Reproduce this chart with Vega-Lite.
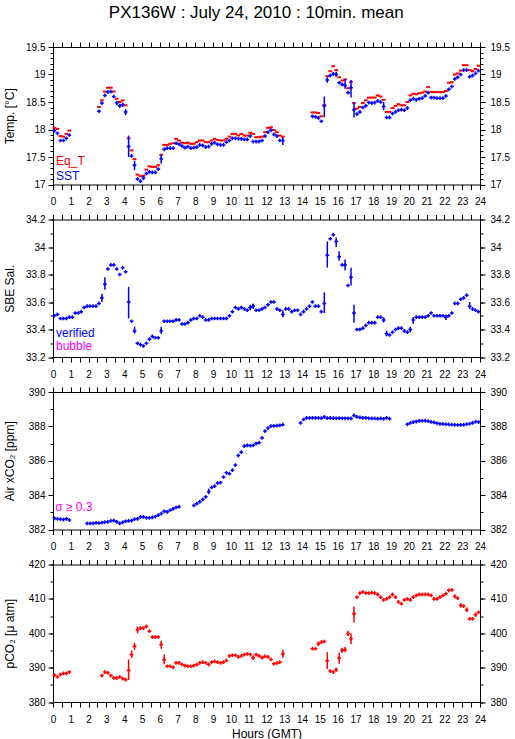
{
"$schema": "https://vega.github.io/schema/vega-lite/v6.json",
"title": {"text": "PX136W : July 24, 2010 : 10min. mean", "fontSize": 17, "font": "Liberation Sans", "fontWeight": "normal", "offset": 19, "anchor": "middle", "color": "#000000"},
"padding": {"left": 2, "top": 4, "right": 0, "bottom": 0},
"bounds": "flush",
"spacing": 34.5,
"datasets": {
"sst": [
{"t":0.083,"v":17.98},{"t":0.25,"v":17.93},{"t":0.417,"v":17.80},{"t":0.583,"v":17.80},{"t":0.75,"v":17.84},{"t":0.917,"v":17.90},
{"t":2.583,"v":18.33},{"t":2.75,"v":18.48},{"t":2.917,"v":18.62},{"t":3.083,"v":18.68},{"t":3.25,"v":18.69},{"t":3.417,"v":18.60},{"t":3.583,"v":18.48,"lo":18.44,"hi":18.52},{"t":3.75,"v":18.43,"lo":18.40,"hi":18.47},{"t":3.917,"v":18.45,"lo":18.41,"hi":18.49},{"t":4.083,"v":18.32,"lo":18.26,"hi":18.37},
{"t":4.25,"v":17.69,"lo":17.50,"hi":17.89},{"t":4.417,"v":17.52},{"t":4.583,"v":17.35,"lo":17.26,"hi":17.43},{"t":4.75,"v":17.10},{"t":4.917,"v":17.06},{"t":5.083,"v":17.12,"lo":17.08,"hi":17.16},{"t":5.25,"v":17.20},{"t":5.417,"v":17.23},{"t":5.583,"v":17.22},{"t":5.75,"v":17.22},{"t":5.917,"v":17.28},
{"t":6.083,"v":17.47,"lo":17.38,"hi":17.55},{"t":6.25,"v":17.64},{"t":6.417,"v":17.66},{"t":6.583,"v":17.66},{"t":6.75,"v":17.66},{"t":6.917,"v":17.75},
{"t":7.083,"v":17.73},{"t":7.25,"v":17.70},{"t":7.417,"v":17.67},{"t":7.583,"v":17.69},{"t":7.75,"v":17.66},{"t":7.917,"v":17.67},
{"t":8.083,"v":17.68},{"t":8.25,"v":17.72},{"t":8.417,"v":17.71},{"t":8.583,"v":17.68},{"t":8.75,"v":17.69},{"t":8.917,"v":17.74},
{"t":9.083,"v":17.76},{"t":9.25,"v":17.73},{"t":9.417,"v":17.72},{"t":9.583,"v":17.72},{"t":9.75,"v":17.77},{"t":9.917,"v":17.80},
{"t":10.083,"v":17.84},{"t":10.25,"v":17.84},{"t":10.417,"v":17.83},{"t":10.583,"v":17.83},{"t":10.75,"v":17.82},{"t":10.917,"v":17.82},
{"t":11.083,"v":17.88},{"t":11.25,"v":17.78},{"t":11.417,"v":17.78},{"t":11.583,"v":17.78},{"t":11.75,"v":17.80},{"t":11.917,"v":17.88},
{"t":12.083,"v":17.95},{"t":12.25,"v":17.99},{"t":12.417,"v":17.91},{"t":12.583,"v":17.88},{"t":12.75,"v":17.80},{"t":12.917,"v":17.80,"lo":17.72,"hi":17.86},
{"t":14.583,"v":18.24},{"t":14.75,"v":18.23},{"t":14.917,"v":18.21},{"t":15.083,"v":18.15},{"t":15.25,"v":18.43,"lo":18.22,"hi":18.60},{"t":15.417,"v":18.90,"lo":18.85,"hi":18.95},{"t":15.583,"v":18.98},{"t":15.75,"v":19.01},{"t":15.917,"v":19.0,"lo":18.96,"hi":19.05},
{"t":16.083,"v":18.85},{"t":16.25,"v":18.82},{"t":16.417,"v":18.80,"lo":18.74,"hi":18.92},{"t":16.583,"v":18.67},{"t":16.75,"v":18.76,"lo":18.58,"hi":18.90},{"t":16.917,"v":18.36,"lo":18.22,"hi":18.50},
{"t":17.083,"v":18.28},{"t":17.25,"v":18.32},{"t":17.417,"v":18.40},{"t":17.583,"v":18.43},{"t":17.75,"v":18.49},{"t":17.917,"v":18.48},
{"t":18.083,"v":18.49},{"t":18.25,"v":18.52},{"t":18.417,"v":18.50},{"t":18.583,"v":18.42,"lo":18.35,"hi":18.50},{"t":18.75,"v":18.22},{"t":18.917,"v":18.22},
{"t":19.083,"v":18.29},{"t":19.25,"v":18.32},{"t":19.417,"v":18.35},{"t":19.583,"v":18.36},{"t":19.75,"v":18.35},{"t":19.917,"v":18.39},
{"t":20.083,"v":18.53},{"t":20.25,"v":18.56},{"t":20.417,"v":18.54},{"t":20.583,"v":18.56},{"t":20.75,"v":18.57},{"t":20.917,"v":18.61},
{"t":21.083,"v":18.67},{"t":21.25,"v":18.58},{"t":21.417,"v":18.58},{"t":21.583,"v":18.57},{"t":21.75,"v":18.57},{"t":21.917,"v":18.57},
{"t":22.083,"v":18.61},{"t":22.25,"v":18.73},{"t":22.417,"v":18.78},{"t":22.583,"v":18.92},{"t":22.75,"v":18.95},{"t":22.917,"v":19.00},
{"t":23.083,"v":19.08},{"t":23.25,"v":19.08},{"t":23.417,"v":18.96},{"t":23.583,"v":18.98},{"t":23.75,"v":19.02},{"t":23.917,"v":19.07}
],
"eq": [
{"t":0.083,"v":18.03},{"t":0.25,"v":18.01},{"t":0.417,"v":17.88},{"t":0.583,"v":17.87},{"t":0.75,"v":17.92},{"t":0.917,"v":17.98},
{"t":2.583,"v":18.41},{"t":2.75,"v":18.53},{"t":2.917,"v":18.69},{"t":3.083,"v":18.76},{"t":3.25,"v":18.76},{"t":3.417,"v":18.69},{"t":3.583,"v":18.56},{"t":3.75,"v":18.50},{"t":3.917,"v":18.53},{"t":4.083,"v":18.44},
{"t":4.25,"v":17.84},{"t":4.417,"v":17.62},{"t":4.583,"v":17.46},{"t":4.75,"v":17.18},{"t":4.917,"v":17.15},{"t":5.083,"v":17.16},{"t":5.25,"v":17.27},{"t":5.417,"v":17.33},{"t":5.583,"v":17.32},{"t":5.75,"v":17.32},{"t":5.917,"v":17.35},
{"t":6.083,"v":17.54},{"t":6.25,"v":17.72},{"t":6.417,"v":17.72},{"t":6.583,"v":17.74},{"t":6.75,"v":17.75},{"t":6.917,"v":17.83},
{"t":7.083,"v":17.80},{"t":7.25,"v":17.76},{"t":7.417,"v":17.75},{"t":7.583,"v":17.76},{"t":7.75,"v":17.74},{"t":7.917,"v":17.74},
{"t":8.083,"v":17.77},{"t":8.25,"v":17.80},{"t":8.417,"v":17.80},{"t":8.583,"v":17.77},{"t":8.75,"v":17.77},{"t":8.917,"v":17.80},
{"t":9.083,"v":17.83},{"t":9.25,"v":17.81},{"t":9.417,"v":17.80},{"t":9.583,"v":17.80},{"t":9.75,"v":17.83},{"t":9.917,"v":17.87},
{"t":10.083,"v":17.92},{"t":10.25,"v":17.92},{"t":10.417,"v":17.89},{"t":10.583,"v":17.92},{"t":10.75,"v":17.89},{"t":10.917,"v":17.89},
{"t":11.083,"v":17.94},{"t":11.25,"v":17.92},{"t":11.417,"v":17.86},{"t":11.583,"v":17.86},{"t":11.75,"v":17.87},{"t":11.917,"v":17.95},
{"t":12.083,"v":18.03},{"t":12.25,"v":18.04},{"t":12.417,"v":17.99},{"t":12.583,"v":17.95},{"t":12.75,"v":17.89},{"t":12.917,"v":17.87},
{"t":14.583,"v":18.31},{"t":14.75,"v":18.31},{"t":14.917,"v":18.30},{"t":15.083,"v":18.24},{"t":15.25,"v":18.44},{"t":15.417,"v":18.97},{"t":15.583,"v":19.06},{"t":15.75,"v":19.15},{"t":15.917,"v":19.08},
{"t":16.083,"v":18.95},{"t":16.25,"v":18.89},{"t":16.417,"v":18.91},{"t":16.583,"v":18.75},{"t":16.75,"v":18.86},{"t":16.917,"v":18.48},
{"t":17.083,"v":18.38},{"t":17.25,"v":18.41},{"t":17.417,"v":18.48},{"t":17.583,"v":18.53},{"t":17.75,"v":18.58},{"t":17.917,"v":18.58},
{"t":18.083,"v":18.58},{"t":18.25,"v":18.62},{"t":18.417,"v":18.60},{"t":18.583,"v":18.54},{"t":18.75,"v":18.32},{"t":18.917,"v":18.32},
{"t":19.083,"v":18.39},{"t":19.25,"v":18.43},{"t":19.417,"v":18.46},{"t":19.583,"v":18.44},{"t":19.75,"v":18.44},{"t":19.917,"v":18.50},
{"t":20.083,"v":18.62},{"t":20.25,"v":18.65},{"t":20.417,"v":18.64},{"t":20.583,"v":18.66},{"t":20.75,"v":18.67},{"t":20.917,"v":18.69},
{"t":21.083,"v":18.77},{"t":21.25,"v":18.68},{"t":21.417,"v":18.68},{"t":21.583,"v":18.68},{"t":21.75,"v":18.68},{"t":21.917,"v":18.68},
{"t":22.083,"v":18.70},{"t":22.25,"v":18.85},{"t":22.417,"v":18.86},{"t":22.583,"v":19.00},{"t":22.75,"v":19.02},{"t":22.917,"v":19.07},
{"t":23.083,"v":19.17},{"t":23.25,"v":19.17},{"t":23.417,"v":19.08},{"t":23.583,"v":19.06},{"t":23.75,"v":19.10},{"t":23.917,"v":19.16}
],
"sal": [
{"t":0.083,"v":33.50},{"t":0.25,"v":33.51},{"t":0.417,"v":33.48},{"t":0.583,"v":33.48},{"t":0.75,"v":33.48},{"t":0.917,"v":33.49},
{"t":1.083,"v":33.49},{"t":1.25,"v":33.52},{"t":1.417,"v":33.52},{"t":1.583,"v":33.53},{"t":1.75,"v":33.56},{"t":1.917,"v":33.57},
{"t":2.083,"v":33.57},{"t":2.25,"v":33.57},{"t":2.417,"v":33.57},{"t":2.583,"v":33.59},{"t":2.75,"v":33.63,"lo":33.60,"hi":33.66},{"t":2.917,"v":33.73,"lo":33.69,"hi":33.78},
{"t":3.083,"v":33.84},{"t":3.25,"v":33.87},{"t":3.417,"v":33.87},{"t":3.583,"v":33.84},{"t":3.75,"v":33.80},{"t":3.917,"v":33.85},
{"t":4.083,"v":33.82},{"t":4.25,"v":33.60,"lo":33.48,"hi":33.71},{"t":4.417,"v":33.46},{"t":4.583,"v":33.39,"lo":33.37,"hi":33.42},{"t":4.75,"v":33.30},{"t":4.917,"v":33.29},
{"t":5.083,"v":33.28},{"t":5.25,"v":33.30},{"t":5.417,"v":33.33},{"t":5.583,"v":33.35},{"t":5.75,"v":33.34},{"t":5.917,"v":33.34},
{"t":6.083,"v":33.39,"lo":33.37,"hi":33.42},{"t":6.25,"v":33.46},{"t":6.417,"v":33.46},{"t":6.583,"v":33.46},{"t":6.75,"v":33.46},{"t":6.917,"v":33.47},
{"t":7.083,"v":33.47},{"t":7.25,"v":33.44},{"t":7.417,"v":33.44},{"t":7.583,"v":33.45},{"t":7.75,"v":33.47},{"t":7.917,"v":33.48},
{"t":8.083,"v":33.48},{"t":8.25,"v":33.50},{"t":8.417,"v":33.49},{"t":8.583,"v":33.47},{"t":8.75,"v":33.47},{"t":8.917,"v":33.48},
{"t":9.083,"v":33.48},{"t":9.25,"v":33.48},{"t":9.417,"v":33.48},{"t":9.583,"v":33.48},{"t":9.75,"v":33.48},{"t":9.917,"v":33.50},
{"t":10.083,"v":33.53},{"t":10.25,"v":33.56},{"t":10.417,"v":33.55},{"t":10.583,"v":33.56},{"t":10.75,"v":33.55},{"t":10.917,"v":33.54},
{"t":11.083,"v":33.56,"lo":33.54,"hi":33.58},{"t":11.25,"v":33.57,"lo":33.55,"hi":33.59},{"t":11.417,"v":33.54},{"t":11.583,"v":33.54},{"t":11.75,"v":33.55},{"t":11.917,"v":33.56},
{"t":12.083,"v":33.58},{"t":12.25,"v":33.60},{"t":12.417,"v":33.60},{"t":12.583,"v":33.55},{"t":12.75,"v":33.54},{"t":12.917,"v":33.51,"lo":33.49,"hi":33.54},
{"t":13.083,"v":33.55},{"t":13.25,"v":33.55},{"t":13.417,"v":33.53},{"t":13.583,"v":33.54},{"t":13.75,"v":33.54},{"t":13.917,"v":33.51},
{"t":14.083,"v":33.53},{"t":14.25,"v":33.55},{"t":14.417,"v":33.57},{"t":14.583,"v":33.60},{"t":14.75,"v":33.57},{"t":14.917,"v":33.57},
{"t":15.083,"v":33.53},{"t":15.25,"v":33.59,"lo":33.52,"hi":33.67},{"t":15.417,"v":33.94,"lo":33.85,"hi":34.04},{"t":15.583,"v":34.06},{"t":15.75,"v":34.09},{"t":15.917,"v":34.04,"lo":34.00,"hi":34.07},
{"t":16.083,"v":33.93,"lo":33.90,"hi":33.97},{"t":16.25,"v":33.87},{"t":16.417,"v":33.87,"lo":33.83,"hi":33.91},{"t":16.583,"v":33.72},{"t":16.75,"v":33.78,"lo":33.72,"hi":33.85},{"t":16.917,"v":33.52,"lo":33.45,"hi":33.58},
{"t":17.083,"v":33.40},{"t":17.25,"v":33.40},{"t":17.417,"v":33.41},{"t":17.583,"v":33.43},{"t":17.75,"v":33.45},{"t":17.917,"v":33.45},
{"t":18.083,"v":33.45},{"t":18.25,"v":33.49},{"t":18.417,"v":33.49},{"t":18.583,"v":33.47,"lo":33.45,"hi":33.49},{"t":18.75,"v":33.37,"lo":33.35,"hi":33.39},{"t":18.917,"v":33.36},
{"t":19.083,"v":33.38},{"t":19.25,"v":33.40},{"t":19.417,"v":33.41},{"t":19.583,"v":33.41},{"t":19.75,"v":33.39},{"t":19.917,"v":33.38},
{"t":20.083,"v":33.40,"lo":33.38,"hi":33.42},{"t":20.25,"v":33.47,"lo":33.44,"hi":33.49},{"t":20.417,"v":33.49},{"t":20.583,"v":33.49},{"t":20.75,"v":33.49},{"t":20.917,"v":33.49},
{"t":21.083,"v":33.50},{"t":21.25,"v":33.52},{"t":21.417,"v":33.50},{"t":21.583,"v":33.50},{"t":21.75,"v":33.50},{"t":21.917,"v":33.50},
{"t":22.083,"v":33.49,"lo":33.47,"hi":33.51},{"t":22.25,"v":33.50},{"t":22.417,"v":33.52},{"t":22.583,"v":33.59},{"t":22.75,"v":33.59},{"t":22.917,"v":33.62},
{"t":23.083,"v":33.63},{"t":23.25,"v":33.65},{"t":23.417,"v":33.57,"lo":33.55,"hi":33.60},{"t":23.583,"v":33.55},{"t":23.75,"v":33.54},{"t":23.917,"v":33.53}
],
"xco2": [
{"t":0.083,"v":382.65},{"t":0.25,"v":382.62},{"t":0.417,"v":382.60},{"t":0.583,"v":382.58},{"t":0.75,"v":382.62},{"t":0.917,"v":382.55},
{"t":1.917,"v":382.35},{"t":2.083,"v":382.35},{"t":2.25,"v":382.36},{"t":2.417,"v":382.38},{"t":2.583,"v":382.37},{"t":2.75,"v":382.40},{"t":2.917,"v":382.43},
{"t":3.083,"v":382.45},{"t":3.25,"v":382.50},{"t":3.417,"v":382.52},{"t":3.583,"v":382.45},{"t":3.75,"v":382.35},{"t":3.917,"v":382.42},
{"t":4.083,"v":382.48},{"t":4.25,"v":382.50},{"t":4.417,"v":382.52},{"t":4.583,"v":382.60},{"t":4.75,"v":382.62},{"t":4.917,"v":382.73},
{"t":5.083,"v":382.73},{"t":5.25,"v":382.68},{"t":5.417,"v":382.68},{"t":5.583,"v":382.70},{"t":5.75,"v":382.75},{"t":5.917,"v":382.83},
{"t":6.083,"v":382.93},{"t":6.25,"v":383.06},{"t":6.417,"v":383.02},{"t":6.583,"v":383.12},{"t":6.75,"v":383.20},{"t":6.917,"v":383.28},
{"t":7.083,"v":383.33},
{"t":7.917,"v":383.40},{"t":8.083,"v":383.50},{"t":8.25,"v":383.62},{"t":8.417,"v":383.75},{"t":8.583,"v":383.90},{"t":8.75,"v":384.20,"lo":384.05,"hi":384.38},
{"t":8.917,"v":384.45},{"t":9.083,"v":384.52},{"t":9.25,"v":384.70},{"t":9.417,"v":384.73},{"t":9.583,"v":385.05},{"t":9.75,"v":385.30},
{"t":9.917,"v":385.25},{"t":10.083,"v":385.45},{"t":10.25,"v":385.75},{"t":10.417,"v":386.30},{"t":10.583,"v":386.50},{"t":10.75,"v":386.85},
{"t":10.917,"v":386.90},{"t":11.083,"v":386.88},{"t":11.25,"v":386.90},{"t":11.417,"v":387.00},{"t":11.583,"v":387.05},{"t":11.75,"v":387.33},
{"t":11.917,"v":387.73},{"t":12.083,"v":387.90},{"t":12.25,"v":388.02},{"t":12.417,"v":388.03},{"t":12.583,"v":388.04},{"t":12.75,"v":388.06},{"t":12.917,"v":388.10},
{"t":13.917,"v":388.20},{"t":14.083,"v":388.40},{"t":14.25,"v":388.49},{"t":14.417,"v":388.49},{"t":14.583,"v":388.49},{"t":14.75,"v":388.50},{"t":14.917,"v":388.49},
{"t":15.083,"v":388.48},{"t":15.25,"v":388.55},{"t":15.417,"v":388.48},{"t":15.583,"v":388.49},{"t":15.75,"v":388.48},{"t":15.917,"v":388.47},
{"t":16.083,"v":388.48},{"t":16.25,"v":388.47},{"t":16.417,"v":388.47},{"t":16.583,"v":388.47},{"t":16.75,"v":388.46},{"t":16.917,"v":388.64},
{"t":17.083,"v":388.55},{"t":17.25,"v":388.52},{"t":17.417,"v":388.50},{"t":17.583,"v":388.50},{"t":17.75,"v":388.47},{"t":17.917,"v":388.46},
{"t":18.083,"v":388.46},{"t":18.25,"v":388.45},{"t":18.417,"v":388.46},{"t":18.583,"v":388.44},{"t":18.75,"v":388.50},{"t":18.917,"v":388.45},
{"t":19.917,"v":388.12},{"t":20.083,"v":388.20},{"t":20.25,"v":388.25},{"t":20.417,"v":388.28},{"t":20.583,"v":388.32},{"t":20.75,"v":388.33},{"t":20.917,"v":388.33},
{"t":21.083,"v":388.30},{"t":21.25,"v":388.26},{"t":21.417,"v":388.23},{"t":21.583,"v":388.18},{"t":21.75,"v":388.15},{"t":21.917,"v":388.14},
{"t":22.083,"v":388.12},{"t":22.25,"v":388.11},{"t":22.417,"v":388.10},{"t":22.583,"v":388.09},{"t":22.75,"v":388.08},{"t":22.917,"v":388.09},
{"t":23.083,"v":388.10},{"t":23.25,"v":388.13},{"t":23.417,"v":388.16},{"t":23.583,"v":388.20},{"t":23.75,"v":388.28},{"t":23.917,"v":388.25}
],
"pco2": [
{"t":0.083,"v":387.8},{"t":0.25,"v":387.3},{"t":0.417,"v":388.0},{"t":0.583,"v":388.3},{"t":0.75,"v":388.3},{"t":0.917,"v":388.7},
{"t":2.75,"v":387.7},{"t":2.917,"v":388.7},{"t":3.083,"v":388.5},{"t":3.25,"v":387.7},{"t":3.417,"v":387.0},{"t":3.583,"v":387.0},{"t":3.75,"v":387.3},{"t":3.917,"v":386.8},
{"t":4.083,"v":386.5},{"t":4.25,"v":389.2,"lo":386.4,"hi":392.4},{"t":4.417,"v":393.8,"lo":392.8,"hi":395.0},{"t":4.583,"v":396.2,"lo":395.2,"hi":397.2},{"t":4.75,"v":401.0,"lo":400.0,"hi":402.0},{"t":4.917,"v":401.5},
{"t":5.083,"v":401.5},{"t":5.25,"v":402.0},{"t":5.417,"v":400.6},{"t":5.583,"v":398.9},{"t":5.75,"v":398.9},{"t":5.917,"v":398.9},
{"t":6.083,"v":396.7,"lo":395.5,"hi":397.8},{"t":6.25,"v":392.3,"lo":391.0,"hi":393.8},{"t":6.417,"v":390.4},{"t":6.583,"v":390.4},{"t":6.75,"v":390.1},{"t":6.917,"v":391.4},
{"t":7.083,"v":391.4},{"t":7.25,"v":390.9},{"t":7.417,"v":390.6},{"t":7.583,"v":390.4},{"t":7.75,"v":390.4},{"t":7.917,"v":390.6},
{"t":8.083,"v":390.9},{"t":8.25,"v":391.4},{"t":8.417,"v":391.6},{"t":8.583,"v":391.4},{"t":8.75,"v":390.9},{"t":8.917,"v":391.6},
{"t":9.083,"v":391.8},{"t":9.25,"v":391.6},{"t":9.417,"v":391.4},{"t":9.583,"v":391.6},{"t":9.75,"v":392.1},{"t":9.917,"v":393.4},
{"t":10.083,"v":393.6},{"t":10.25,"v":393.6},{"t":10.417,"v":393.1},{"t":10.583,"v":393.4},{"t":10.75,"v":393.8},{"t":10.917,"v":394.0},
{"t":11.083,"v":393.8},{"t":11.25,"v":392.9,"lo":392.3,"hi":393.6},{"t":11.417,"v":393.8},{"t":11.583,"v":393.4},{"t":11.75,"v":392.9},{"t":11.917,"v":393.3},
{"t":12.083,"v":393.1},{"t":12.25,"v":392.4},{"t":12.417,"v":391.1},{"t":12.583,"v":391.3},{"t":12.75,"v":391.6},{"t":12.917,"v":394.0,"lo":392.9,"hi":395.2},
{"t":14.583,"v":395.5},{"t":14.75,"v":395.5},{"t":14.917,"v":396.9,"lo":396.3,"hi":397.6},{"t":15.083,"v":397.4},{"t":15.25,"v":397.6},{"t":15.417,"v":392.0,"lo":389.6,"hi":394.5},
{"t":15.583,"v":389.0},{"t":15.75,"v":388.7},{"t":15.917,"v":389.4,"lo":388.8,"hi":390.0},{"t":16.083,"v":392.8,"lo":391.1,"hi":394.3},{"t":16.25,"v":395.0,"lo":394.3,"hi":395.8},{"t":16.417,"v":395.2,"lo":394.5,"hi":396.0},
{"t":16.583,"v":399.9,"lo":399.2,"hi":400.7},{"t":16.75,"v":398.4,"lo":396.8,"hi":400.0},{"t":16.917,"v":405.7,"lo":403.1,"hi":407.8},{"t":17.083,"v":410.5},{"t":17.25,"v":411.7},{"t":17.417,"v":412.0},
{"t":17.583,"v":411.7},{"t":17.75,"v":411.7},{"t":17.917,"v":411.8},{"t":18.083,"v":411.7},{"t":18.25,"v":411.3},{"t":18.417,"v":410.5},
{"t":18.583,"v":409.7},{"t":18.75,"v":410.0},{"t":18.917,"v":410.5},{"t":19.083,"v":411.3,"lo":410.9,"hi":411.7},{"t":19.25,"v":410.5},{"t":19.417,"v":409.1},
{"t":19.583,"v":408.6},{"t":19.75,"v":409.7},{"t":19.917,"v":410.0},{"t":20.083,"v":409.7},{"t":20.25,"v":410.5},{"t":20.417,"v":411.0},
{"t":20.583,"v":411.3},{"t":20.75,"v":411.3},{"t":20.917,"v":411.3},{"t":21.083,"v":411.3},{"t":21.25,"v":411.0},{"t":21.417,"v":410.0},
{"t":21.583,"v":410.0},{"t":21.75,"v":410.5},{"t":21.917,"v":411.0},{"t":22.083,"v":411.5},{"t":22.25,"v":412.5},{"t":22.417,"v":412.6},
{"t":22.583,"v":410.7,"lo":410.2,"hi":411.3},{"t":22.75,"v":410.2},{"t":22.917,"v":408.1,"lo":407.5,"hi":408.8},{"t":23.083,"v":407.9},{"t":23.25,"v":406.8,"lo":406.2,"hi":407.5},{"t":23.417,"v":404.2},
{"t":23.583,"v":404.2},{"t":23.75,"v":405.4,"lo":404.8,"hi":406.0},{"t":23.917,"v":406.1}
]
},
"vconcat": [
{
"width": 427, "height": 137.5,
"resolve": {"axis": {"x": "independent", "y": "independent"}},
"layer": [
{"data": {"name": "eq"},
 "mark": {"type": "point", "shape": "M-1,0H1", "size": 14, "filled": false, "stroke": "#ff0000", "strokeWidth": 2, "opacity": 1},
 "encoding": {
  "x": {"field": "t", "type": "quantitative", "scale": {"domain": [0, 24], "nice": false, "zero": false},
        "axis": {"orient": "bottom", "values": [0,0.5,1,1.5,2,2.5,3,3.5,4,4.5,5,5.5,6,6.5,7,7.5,8,8.5,9,9.5,10,10.5,11,11.5,12,12.5,13,13.5,14,14.5,15,15.5,16,16.5,17,17.5,18,18.5,19,19.5,20,20.5,21,21.5,22,22.5,23,23.5,24], "labelExpr": "datum.value % 1 === 0 ? format(datum.value, 'd') : ''", "tickSize": 5, "labelPadding": 7, "title": null}},
  "y": {"field": "v", "type": "quantitative", "scale": {"domain": [17, 19.5], "nice": false, "zero": false},
        "axis": {"orient": "left", "values": [17,17.5,18,18.5,19,19.5], "labelExpr": "'' + datum.value", "tickSize": 5, "labelPadding": 3, "title": "Temp. [°C]", "titleX": -37, "titleY": 68.75, "titleAngle": 270, "titleAlign": "center", "titleBaseline": "bottom"}}
 }},
{"data": {"name": "sst"},
 "mark": {"type": "point", "shape": "M-1,0H1M0,-1V1", "size": 14, "filled": false, "stroke": "#0000ff", "strokeWidth": 1.5, "opacity": 1},
 "encoding": {
  "x": {"field": "t", "type": "quantitative", "scale": {"domain": [0, 24], "nice": false, "zero": false},
        "axis": {"orient": "top", "values": [0,0.5,1,1.5,2,2.5,3,3.5,4,4.5,5,5.5,6,6.5,7,7.5,8,8.5,9,9.5,10,10.5,11,11.5,12,12.5,13,13.5,14,14.5,15,15.5,16,16.5,17,17.5,18,18.5,19,19.5,20,20.5,21,21.5,22,22.5,23,23.5,24], "labels": false, "tickSize": 5, "title": null}},
  "y": {"field": "v", "type": "quantitative", "scale": {"domain": [17, 19.5], "nice": false, "zero": false},
        "axis": {"orient": "right", "values": [17,17.5,18,18.5,19,19.5], "labelExpr": "'' + datum.value", "tickSize": 5, "labelPadding": 5, "title": null}}
 }},
{"data": {"name": "sst"}, "transform": [{"filter": "isValid(datum.lo)"}],
 "mark": {"type": "rule", "color": "#0000ff", "strokeWidth": 1.5},
 "encoding": {
  "x": {"field": "t", "type": "quantitative", "scale": {"domain": [0, 24], "nice": false, "zero": false}, "axis": null},
  "y": {"field": "lo", "type": "quantitative", "scale": {"domain": [17, 19.5], "nice": false, "zero": false},
        "axis": {"orient": "left", "values": [17,17.1,17.2,17.3,17.4,17.5,17.6,17.7,17.8,17.9,18,18.1,18.2,18.3,18.4,18.5,18.6,18.7,18.8,18.9,19,19.1,19.2,19.3,19.4,19.5], "labels": false, "tickSize": 3, "title": null}},
  "y2": {"field": "hi"}
 }},
{"data": {"name": "sst"},
 "mark": {"type": "point", "opacity": 0},
 "encoding": {
  "x": {"field": "t", "type": "quantitative", "scale": {"domain": [0, 24], "nice": false, "zero": false}, "axis": null},
  "y": {"field": "v", "type": "quantitative", "scale": {"domain": [17, 19.5], "nice": false, "zero": false},
        "axis": {"orient": "right", "values": [17,17.1,17.2,17.3,17.4,17.5,17.6,17.7,17.8,17.9,18,18.1,18.2,18.3,18.4,18.5,18.6,18.7,18.8,18.9,19,19.1,19.2,19.3,19.4,19.5], "labels": false, "tickSize": 3, "title": null}}
 }},
{"data": {"values": [{}]},
 "mark": {"type": "text", "text": "Eq_T", "color": "#ff0000", "align": "left", "baseline": "alphabetic", "fontSize": 12, "font": "Liberation Sans"},
 "encoding": {
  "x": {"datum": 0.17, "type": "quantitative", "scale": {"domain": [0, 24], "nice": false, "zero": false}, "axis": null},
  "y": {"datum": 17.35, "type": "quantitative", "scale": {"domain": [17, 19.5], "nice": false, "zero": false}, "axis": null}
 }},
{"data": {"values": [{}]},
 "mark": {"type": "text", "text": "SST", "color": "#0000ff", "align": "left", "baseline": "alphabetic", "fontSize": 12, "font": "Liberation Sans"},
 "encoding": {
  "x": {"datum": 0.17, "type": "quantitative", "scale": {"domain": [0, 24], "nice": false, "zero": false}, "axis": null},
  "y": {"datum": 17.09, "type": "quantitative", "scale": {"domain": [17, 19.5], "nice": false, "zero": false}, "axis": null}
 }}
]
},
{
"width": 427, "height": 137.5,
"resolve": {"axis": {"x": "independent", "y": "independent"}},
"layer": [
{"data": {"name": "sal"},
 "mark": {"type": "point", "shape": "M-1,0H1M0,-1V1", "size": 14, "filled": false, "stroke": "#0000ff", "strokeWidth": 1.5, "opacity": 1},
 "encoding": {
  "x": {"field": "t", "type": "quantitative", "scale": {"domain": [0, 24], "nice": false, "zero": false},
        "axis": {"orient": "bottom", "values": [0,0.5,1,1.5,2,2.5,3,3.5,4,4.5,5,5.5,6,6.5,7,7.5,8,8.5,9,9.5,10,10.5,11,11.5,12,12.5,13,13.5,14,14.5,15,15.5,16,16.5,17,17.5,18,18.5,19,19.5,20,20.5,21,21.5,22,22.5,23,23.5,24], "labelExpr": "datum.value % 1 === 0 ? format(datum.value, 'd') : ''", "tickSize": 5, "labelPadding": 7, "title": null}},
  "y": {"field": "v", "type": "quantitative", "scale": {"domain": [33.2, 34.2], "nice": false, "zero": false},
        "axis": {"orient": "left", "values": [33.2,33.4,33.6,33.8,34,34.2], "labelExpr": "'' + datum.value", "tickSize": 5, "labelPadding": 3, "title": "SBE Sal.", "titleX": -37, "titleY": 68.75, "titleAngle": 270, "titleAlign": "center", "titleBaseline": "bottom"}}
 }},
{"data": {"name": "sal"}, "transform": [{"filter": "isValid(datum.lo)"}],
 "mark": {"type": "rule", "color": "#0000ff", "strokeWidth": 1.5},
 "encoding": {
  "x": {"field": "t", "type": "quantitative", "scale": {"domain": [0, 24], "nice": false, "zero": false},
        "axis": {"orient": "top", "values": [0,0.5,1,1.5,2,2.5,3,3.5,4,4.5,5,5.5,6,6.5,7,7.5,8,8.5,9,9.5,10,10.5,11,11.5,12,12.5,13,13.5,14,14.5,15,15.5,16,16.5,17,17.5,18,18.5,19,19.5,20,20.5,21,21.5,22,22.5,23,23.5,24], "labels": false, "tickSize": 5, "title": null}},
  "y": {"field": "lo", "type": "quantitative", "scale": {"domain": [33.2, 34.2], "nice": false, "zero": false},
        "axis": {"orient": "right", "values": [33.2,33.4,33.6,33.8,34,34.2], "labelExpr": "'' + datum.value", "tickSize": 5, "labelPadding": 5, "title": null}},
  "y2": {"field": "hi"}
 }},
{"data": {"name": "sal"},
 "mark": {"type": "point", "opacity": 0},
 "encoding": {
  "x": {"field": "t", "type": "quantitative", "scale": {"domain": [0, 24], "nice": false, "zero": false}, "axis": null},
  "y": {"field": "v", "type": "quantitative", "scale": {"domain": [33.2, 34.2], "nice": false, "zero": false},
        "axis": {"orient": "left", "values": [33.2,33.3,33.4,33.5,33.6,33.7,33.8,33.9,34,34.1,34.2], "labels": false, "tickSize": 3, "title": null}}
 }},
{"data": {"name": "sal"},
 "mark": {"type": "point", "opacity": 0},
 "encoding": {
  "x": {"field": "t", "type": "quantitative", "scale": {"domain": [0, 24], "nice": false, "zero": false}, "axis": null},
  "y": {"field": "v", "type": "quantitative", "scale": {"domain": [33.2, 34.2], "nice": false, "zero": false},
        "axis": {"orient": "right", "values": [33.2,33.3,33.4,33.5,33.6,33.7,33.8,33.9,34,34.1,34.2], "labels": false, "tickSize": 3, "title": null}}
 }},
{"data": {"values": [{}]},
 "mark": {"type": "text", "text": "verified", "color": "#0000ff", "align": "left", "baseline": "alphabetic", "fontSize": 12, "font": "Liberation Sans"},
 "encoding": {
  "x": {"datum": 0.17, "type": "quantitative", "scale": {"domain": [0, 24], "nice": false, "zero": false}, "axis": null},
  "y": {"datum": 33.345, "type": "quantitative", "scale": {"domain": [33.2, 34.2], "nice": false, "zero": false}, "axis": null}
 }},
{"data": {"values": [{}]},
 "mark": {"type": "text", "text": "bubble", "color": "#ff00ff", "align": "left", "baseline": "alphabetic", "fontSize": 12, "font": "Liberation Sans"},
 "encoding": {
  "x": {"datum": 0.17, "type": "quantitative", "scale": {"domain": [0, 24], "nice": false, "zero": false}, "axis": null},
  "y": {"datum": 33.25, "type": "quantitative", "scale": {"domain": [33.2, 34.2], "nice": false, "zero": false}, "axis": null}
 }}
]
},
{
"width": 427, "height": 137.5,
"resolve": {"axis": {"x": "independent", "y": "independent"}},
"layer": [
{"data": {"name": "xco2"},
 "mark": {"type": "point", "shape": "M-1,0H1M0,-1V1", "size": 14, "filled": false, "stroke": "#0000ff", "strokeWidth": 1.5, "opacity": 1},
 "encoding": {
  "x": {"field": "t", "type": "quantitative", "scale": {"domain": [0, 24], "nice": false, "zero": false},
        "axis": {"orient": "bottom", "values": [0,0.5,1,1.5,2,2.5,3,3.5,4,4.5,5,5.5,6,6.5,7,7.5,8,8.5,9,9.5,10,10.5,11,11.5,12,12.5,13,13.5,14,14.5,15,15.5,16,16.5,17,17.5,18,18.5,19,19.5,20,20.5,21,21.5,22,22.5,23,23.5,24], "labelExpr": "datum.value % 1 === 0 ? format(datum.value, 'd') : ''", "tickSize": 5, "labelPadding": 7, "title": null}},
  "y": {"field": "v", "type": "quantitative", "scale": {"domain": [382, 390], "nice": false, "zero": false},
        "axis": {"orient": "left", "values": [382,384,386,388,390], "labelExpr": "'' + datum.value", "tickSize": 5, "labelPadding": 3, "title": "Air xCO₂ [ppm]", "titleX": -37, "titleY": 68.75, "titleAngle": 270, "titleAlign": "center", "titleBaseline": "bottom"}}
 }},
{"data": {"name": "xco2"}, "transform": [{"filter": "isValid(datum.lo)"}],
 "mark": {"type": "rule", "color": "#0000ff", "strokeWidth": 1.5},
 "encoding": {
  "x": {"field": "t", "type": "quantitative", "scale": {"domain": [0, 24], "nice": false, "zero": false},
        "axis": {"orient": "top", "values": [0,0.5,1,1.5,2,2.5,3,3.5,4,4.5,5,5.5,6,6.5,7,7.5,8,8.5,9,9.5,10,10.5,11,11.5,12,12.5,13,13.5,14,14.5,15,15.5,16,16.5,17,17.5,18,18.5,19,19.5,20,20.5,21,21.5,22,22.5,23,23.5,24], "labels": false, "tickSize": 5, "title": null}},
  "y": {"field": "lo", "type": "quantitative", "scale": {"domain": [382, 390], "nice": false, "zero": false},
        "axis": {"orient": "right", "values": [382,384,386,388,390], "labelExpr": "'' + datum.value", "tickSize": 5, "labelPadding": 5, "title": null}},
  "y2": {"field": "hi"}
 }},
{"data": {"name": "xco2"},
 "mark": {"type": "point", "opacity": 0},
 "encoding": {
  "x": {"field": "t", "type": "quantitative", "scale": {"domain": [0, 24], "nice": false, "zero": false}, "axis": null},
  "y": {"field": "v", "type": "quantitative", "scale": {"domain": [382, 390], "nice": false, "zero": false},
        "axis": {"orient": "left", "values": [382,383,384,385,386,387,388,389,390], "labels": false, "tickSize": 3, "title": null}}
 }},
{"data": {"name": "xco2"},
 "mark": {"type": "point", "opacity": 0},
 "encoding": {
  "x": {"field": "t", "type": "quantitative", "scale": {"domain": [0, 24], "nice": false, "zero": false}, "axis": null},
  "y": {"field": "v", "type": "quantitative", "scale": {"domain": [382, 390], "nice": false, "zero": false},
        "axis": {"orient": "right", "values": [382,383,384,385,386,387,388,389,390], "labels": false, "tickSize": 3, "title": null}}
 }},
{"data": {"values": [{}]},
 "mark": {"type": "text", "text": "σ ≥ 0.3", "color": "#ff00ff", "align": "left", "baseline": "alphabetic", "fontSize": 12, "font": "Liberation Sans"},
 "encoding": {
  "x": {"datum": 0.12, "type": "quantitative", "scale": {"domain": [0, 24], "nice": false, "zero": false}, "axis": null},
  "y": {"datum": 383.05, "type": "quantitative", "scale": {"domain": [382, 390], "nice": false, "zero": false}, "axis": null}
 }}
]
},
{
"width": 427, "height": 137.5,
"resolve": {"axis": {"x": "independent", "y": "independent"}},
"layer": [
{"data": {"name": "pco2"},
 "mark": {"type": "point", "shape": "M-1,0H1M0,-1V1", "size": 14, "filled": false, "stroke": "#ff0000", "strokeWidth": 1.5, "opacity": 1},
 "encoding": {
  "x": {"field": "t", "type": "quantitative", "scale": {"domain": [0, 24], "nice": false, "zero": false},
        "axis": {"orient": "bottom", "values": [0,0.5,1,1.5,2,2.5,3,3.5,4,4.5,5,5.5,6,6.5,7,7.5,8,8.5,9,9.5,10,10.5,11,11.5,12,12.5,13,13.5,14,14.5,15,15.5,16,16.5,17,17.5,18,18.5,19,19.5,20,20.5,21,21.5,22,22.5,23,23.5,24], "labelExpr": "datum.value % 1 === 0 ? format(datum.value, 'd') : ''", "tickSize": 5, "labelPadding": 7, "title": "Hours (GMT)", "titlePadding": 4, "titleFontSize": 12}},
  "y": {"field": "v", "type": "quantitative", "scale": {"domain": [380, 420], "nice": false, "zero": false},
        "axis": {"orient": "left", "values": [380,390,400,410,420], "labelExpr": "'' + datum.value", "tickSize": 5, "labelPadding": 3, "title": "pCO₂ [μ atm]", "titleX": -37, "titleY": 68.75, "titleAngle": 270, "titleAlign": "center", "titleBaseline": "bottom"}}
 }},
{"data": {"name": "pco2"}, "transform": [{"filter": "isValid(datum.lo)"}],
 "mark": {"type": "rule", "color": "#ff0000", "strokeWidth": 1.5},
 "encoding": {
  "x": {"field": "t", "type": "quantitative", "scale": {"domain": [0, 24], "nice": false, "zero": false},
        "axis": {"orient": "top", "values": [0,0.5,1,1.5,2,2.5,3,3.5,4,4.5,5,5.5,6,6.5,7,7.5,8,8.5,9,9.5,10,10.5,11,11.5,12,12.5,13,13.5,14,14.5,15,15.5,16,16.5,17,17.5,18,18.5,19,19.5,20,20.5,21,21.5,22,22.5,23,23.5,24], "labels": false, "tickSize": 5, "title": null}},
  "y": {"field": "lo", "type": "quantitative", "scale": {"domain": [380, 420], "nice": false, "zero": false},
        "axis": {"orient": "right", "values": [380,390,400,410,420], "labelExpr": "'' + datum.value", "tickSize": 5, "labelPadding": 5, "title": null}},
  "y2": {"field": "hi"}
 }},
{"data": {"name": "pco2"},
 "mark": {"type": "point", "opacity": 0},
 "encoding": {
  "x": {"field": "t", "type": "quantitative", "scale": {"domain": [0, 24], "nice": false, "zero": false}, "axis": null},
  "y": {"field": "v", "type": "quantitative", "scale": {"domain": [380, 420], "nice": false, "zero": false},
        "axis": {"orient": "left", "values": [380,385,390,395,400,405,410,415,420], "labels": false, "tickSize": 3, "title": null}}
 }},
{"data": {"name": "pco2"},
 "mark": {"type": "point", "opacity": 0},
 "encoding": {
  "x": {"field": "t", "type": "quantitative", "scale": {"domain": [0, 24], "nice": false, "zero": false}, "axis": null},
  "y": {"field": "v", "type": "quantitative", "scale": {"domain": [380, 420], "nice": false, "zero": false},
        "axis": {"orient": "right", "values": [380,385,390,395,400,405,410,415,420], "labels": false, "tickSize": 3, "title": null}}
 }}
]
}
],
"config": {
 "background": "#ffffff",
 "view": {"stroke": "#000000", "strokeWidth": 1},
 "axis": {"grid": false, "domain": false, "labelFont": "Liberation Sans", "labelFontSize": 10, "labelColor": "#000000", "tickColor": "#000000", "tickWidth": 1, "titleFont": "Liberation Sans", "titleFontSize": 12, "titleFontWeight": "normal", "titleColor": "#000000", "labelFlush": false, "labelOverlap": false}
}
}
